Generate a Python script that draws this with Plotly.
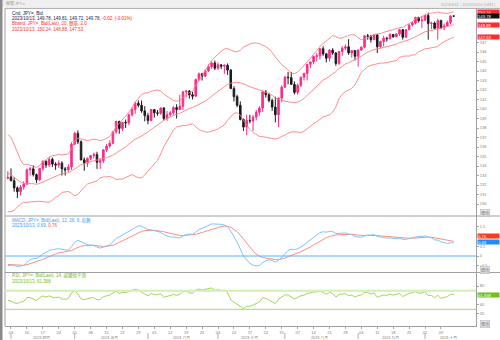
import pandas as pd
import plotly.graph_objects as go

# ---- daily USD/JPY candles, 2023-03-31 .. 2023-10-13 ----
opens = [132.70, 132.85, 132.45, 131.70, 131.30, 131.80, 132.10, 133.60, 133.70, 133.10,
         132.55, 133.75, 134.50, 134.10, 134.70, 134.20, 134.10, 134.30, 133.70, 133.60,
         133.90, 136.30, 137.45, 136.55, 134.65, 134.30, 134.80, 135.10, 135.20, 134.40,
         134.55, 135.70, 136.10, 136.40, 137.60, 138.70, 137.95, 138.60, 138.55, 139.40,
         139.95, 140.60, 140.40, 139.80, 139.30, 138.80, 139.95, 139.60, 139.55, 140.10,
         139.00, 139.40, 139.60, 140.15, 139.95, 140.30, 141.80, 141.90, 141.50, 141.35,
         143.10, 143.70, 143.45, 144.00, 144.45, 144.85, 144.30, 144.65, 144.50, 144.60,
         144.10, 142.15, 141.30, 140.40, 138.90, 138.10, 138.80, 138.75, 139.15, 139.65,
         140.10, 141.80, 141.50, 140.90, 140.20, 139.40, 141.15, 142.30, 143.35, 143.30,
         142.60, 141.75, 142.50, 143.35, 143.75, 144.70, 144.95, 145.55, 145.60, 146.35,
         145.80, 145.35, 146.20, 145.90, 144.80, 146.05, 146.40, 146.55, 145.90, 146.15,
         145.55, 146.20, 146.50, 147.70, 147.65, 147.30, 147.80, 146.55, 147.10, 147.45,
         147.40, 147.85, 147.60, 147.90, 148.35, 147.55, 148.35, 148.85, 149.05, 149.65,
         149.30, 149.35, 149.85, 149.00, 149.05, 148.50, 149.30, 148.55, 148.75, 149.10,
         149.78]
highs = [133.45, 133.75, 132.80, 131.85, 132.00, 132.40, 133.75, 133.90, 134.05, 133.20,
         133.80, 134.60, 134.60, 134.95, 134.90, 134.40, 134.60, 134.50, 133.90, 134.20,
         136.50, 137.60, 137.75, 136.70, 134.90, 134.90, 135.10, 135.40, 135.50, 134.80,
         135.75, 136.30, 136.70, 137.60, 138.75, 138.75, 138.60, 138.90, 139.50, 140.20,
         140.75, 140.90, 140.90, 140.30, 139.60, 140.00, 140.00, 139.90, 140.20, 140.20,
         139.80, 139.80, 140.30, 140.50, 141.50, 141.90, 141.95, 142.00, 141.80, 143.20,
         143.85, 143.80, 144.20, 144.70, 145.00, 145.10, 144.90, 144.70, 144.70, 144.80,
         144.20, 142.40, 141.50, 140.80, 139.00, 139.40, 139.40, 139.40, 139.90, 140.30,
         141.95, 142.00, 141.70, 141.10, 141.30, 141.20, 142.50, 143.50, 143.90, 143.90,
         142.90, 142.70, 143.40, 143.80, 144.70, 145.00, 145.60, 145.90, 146.40, 146.60,
         145.90, 146.30, 146.40, 146.00, 146.10, 146.60, 146.80, 147.35, 146.20, 146.20,
         146.30, 146.60, 147.80, 147.90, 147.80, 147.90, 147.90, 147.20, 147.70, 147.60,
         147.95, 147.90, 148.00, 148.45, 148.40, 148.40, 148.90, 149.20, 149.70, 149.70,
         149.80, 149.90, 150.15, 149.20, 149.20, 149.50, 149.40, 149.00, 149.30, 149.85,
         149.81]
lows = [132.60, 132.40, 131.30, 130.63, 130.90, 131.50, 132.00, 133.00, 132.90, 132.20,
        132.40, 133.50, 133.80, 133.90, 133.90, 133.60, 133.80, 133.00, 133.00, 133.40,
        133.60, 136.20, 136.30, 134.60, 133.50, 133.90, 134.60, 134.80, 133.70, 133.70,
        134.30, 135.50, 135.90, 136.30, 137.40, 137.40, 137.70, 138.00, 138.30, 139.20,
        139.50, 140.20, 139.60, 138.70, 138.40, 138.70, 139.10, 139.30, 139.40, 138.80,
        138.75, 139.20, 139.40, 139.00, 139.90, 139.90, 141.20, 141.10, 141.00, 141.30,
        142.90, 143.00, 143.40, 143.90, 144.20, 144.10, 144.10, 144.20, 143.70, 143.60,
        142.10, 140.80, 140.20, 138.80, 137.70, 137.25, 138.50, 137.70, 138.80, 139.30,
        139.70, 141.20, 140.70, 139.80, 138.60, 138.10, 140.70, 142.20, 142.60, 142.55,
        141.55, 141.50, 142.30, 143.00, 143.00, 144.30, 144.70, 145.00, 145.20, 145.60,
        144.90, 145.00, 145.70, 144.55, 144.60, 145.60, 146.20, 145.70, 145.40, 145.10,
        144.45, 146.10, 146.40, 147.30, 147.00, 147.25, 145.90, 146.40, 146.60, 147.10,
        147.30, 147.50, 147.55, 147.70, 147.30, 147.50, 148.30, 148.70, 148.90, 149.10,
        148.50, 149.30, 147.30, 148.40, 148.40, 147.30, 148.40, 148.30, 148.75, 148.90,
        149.72]
closes = [132.80, 132.45, 131.70, 131.30, 131.80, 132.10, 133.60, 133.70, 133.10, 132.55,
          133.75, 134.50, 134.10, 134.70, 134.20, 134.10, 134.30, 133.70, 133.60, 133.90,
          136.30, 137.45, 136.55, 134.65, 134.30, 134.80, 135.10, 135.20, 134.40, 134.55,
          135.70, 136.10, 136.40, 137.60, 138.70, 137.95, 138.60, 138.55, 139.40, 139.95,
          140.60, 140.40, 139.80, 139.30, 138.80, 139.95, 139.60, 139.55, 140.10, 139.00,
          139.40, 139.60, 140.15, 139.95, 140.30, 141.80, 141.90, 141.50, 141.35, 143.10,
          143.70, 143.45, 144.00, 144.45, 144.85, 144.30, 144.65, 144.50, 144.60, 144.10,
          142.15, 141.30, 140.40, 138.90, 138.10, 138.80, 138.75, 139.15, 139.65, 140.10,
          141.80, 141.50, 140.90, 140.20, 139.40, 141.15, 142.30, 143.35, 143.30, 142.60,
          141.75, 142.50, 143.35, 143.75, 144.70, 144.95, 145.55, 145.60, 146.35, 145.80,
          145.35, 146.20, 145.90, 144.80, 146.05, 146.40, 146.55, 145.90, 146.15, 145.55,
          146.20, 146.50, 147.70, 147.65, 147.30, 147.80, 146.55, 147.10, 147.45, 147.40,
          147.85, 147.60, 147.90, 148.35, 147.55, 148.35, 148.85, 149.05, 149.65, 149.30,
          149.35, 149.85, 149.00, 149.05, 148.50, 149.30, 148.55, 148.75, 149.10, 149.80,
          149.78]

# earlier closes (Jan-Mar 2023) so the indicators are already running on the first bar
history_closes = [130.9, 131.0, 132.3, 133.4, 132.1, 131.9, 132.2, 132.4, 129.2, 127.9,
                  128.5, 128.1, 128.9, 128.4, 129.6, 130.7, 130.2, 129.2, 130.2, 129.9,
                  130.4, 130.1, 128.9, 128.7, 131.2, 132.6, 131.1, 131.4, 131.4, 131.4,
                  132.4, 133.1, 134.1, 133.9, 134.2, 134.3, 134.9, 134.9, 134.7, 136.4,
                  136.2, 136.2, 136.2, 136.8, 135.9, 135.9, 137.2, 137.3, 136.1, 135.0,
                  133.2, 134.2, 133.4, 133.8, 131.8, 131.3, 132.5, 131.4, 130.8, 130.7,
                  131.5, 130.9, 132.8, 132.7]

# values printed in the legend lines / axis flags for the last bar
last_bar = "2023/10/13"
bb_last = [150.24, 148.88, 147.53]
macd_last = [0.69, 0.76]
rsi_last = 61.368
price_ticks = list(range(130, 148))
macd_ticks = [-0.5, 0, 0.5, 1.5]
rsi_ticks = [20, 40, 80]
month_names = {4: "四月", 5: "五月", 6: "六月", 7: "七月", 8: "八月", 9: "九月", 10: "十月"}

# ---- indicators ----
dates = pd.bdate_range("2023-03-31", "2023-10-13")
n = len(closes)
s = pd.Series(history_closes + closes)
mid = s.rolling(20).mean()
sd = s.rolling(20).std(ddof=0)
upper, lower = mid + 2 * sd, mid - 2 * sd
macd = s.ewm(span=12, adjust=False).mean() - s.ewm(span=26, adjust=False).mean()
signal = macd.ewm(span=9, adjust=False).mean()
d = s.diff()
gain = d.clip(lower=0).ewm(alpha=1 / 14, adjust=False).mean()
loss = (-d.clip(upper=0)).ewm(alpha=1 / 14, adjust=False).mean()
rsi = 100 - 100 / (1 + gain / loss)
tail = lambda v: v.iloc[-n:].to_list()

idx = list(range(n))
W, H = 500, 340
FONT = "Liberation Sans, Noto Sans CJK TC, sans-serif"
UP, DOWN = "#ff2a86", "#1c1c1c"
BBC = "#ff8080"
BLUE, SALMON, GREEN = "#7cc4ff", "#ff8e7c", "#9ed85b"

px = lambda x: x / W
py = lambda y: 1 - y / H

fig = go.Figure()
fig.add_trace(go.Candlestick(
    x=idx, open=opens, high=highs, low=lows, close=closes,
    increasing=dict(line=dict(color=UP, width=1), fillcolor=UP),
    decreasing=dict(line=dict(color=DOWN, width=1), fillcolor=DOWN),
    whiskerwidth=0, xaxis="x", yaxis="y", showlegend=False))
for band in (upper, mid, lower):
    fig.add_trace(go.Scatter(x=idx, y=tail(band), mode="lines",
                             line=dict(color=BBC, width=0.9), xaxis="x", yaxis="y"))

fig.add_trace(go.Scatter(x=idx, y=tail(signal), mode="lines",
                         line=dict(color=SALMON, width=1), xaxis="x2", yaxis="y2"))
fig.add_trace(go.Scatter(x=idx, y=tail(macd), mode="lines",
                         line=dict(color=BLUE, width=1), xaxis="x2", yaxis="y2"))
fig.add_trace(go.Scatter(x=idx, y=tail(rsi), mode="lines",
                         line=dict(color=GREEN, width=1), xaxis="x3", yaxis="y3"))

XR = [-0.88, 147.0]
XD = [px(5), px(476)]
axis_common = dict(showgrid=False, zeroline=False, automargin=False)
mondays = [i for i, dt in enumerate(dates) if dt.weekday() == 0]

fig.update_layout(
    width=W, height=H, margin=dict(l=0, r=0, t=0, b=0),
    paper_bgcolor="white", plot_bgcolor="white", showlegend=False,
    font=dict(family=FONT, size=4, color="#808080"),
    xaxis=dict(domain=XD, range=XR, anchor="y", showticklabels=False,
               rangeslider=dict(visible=False), **axis_common),
    xaxis2=dict(domain=XD, range=XR, anchor="y2", matches="x", showticklabels=False, **axis_common),
    xaxis3=dict(domain=XD, range=XR, anchor="y3", matches="x",
                tickvals=mondays, ticktext=[dates[i].strftime("%d") for i in mondays],
                ticks="outside", ticklen=2, tickcolor="#aaaaaa", tickfont=dict(size=4, color="#808080"),
                showline=True, linecolor="#a0a0a0", linewidth=1, **axis_common),
    yaxis=dict(domain=[py(216), py(8.3)], range=[128.74, 150.6], side="right",
               tickvals=price_ticks, ticks="outside", ticklen=2, tickcolor="#aaaaaa",
               showline=True, linecolor="#a0a0a0", linewidth=1, **axis_common),
    yaxis2=dict(domain=[py(272.5), py(216)], range=[-0.85, 2.06], side="right",
                tickvals=macd_ticks, ticks="outside", ticklen=2, tickcolor="#aaaaaa",
                tickfont=dict(size=3.8), showline=True, linecolor="#a0a0a0", linewidth=1,
                **axis_common),
    yaxis3=dict(domain=[py(326), py(272.5)], range=[-5.9, 109.1], side="right",
                tickvals=rsi_ticks, ticks="outside", ticklen=2, tickcolor="#aaaaaa",
                showline=True, linecolor="#a0a0a0", linewidth=1, **axis_common),
)

shapes = [
    dict(type="rect", xref="paper", yref="paper", x0=0, x1=1, y0=py(7), y1=1,
         fillcolor="#efefef", line=dict(width=0), layer="below"),
    dict(type="rect", xref="paper", yref="paper", x0=0, x1=px(2.5), y0=0, y1=1,
         fillcolor="#8a8a8a", line=dict(width=0)),
    dict(type="line", xref="paper", yref="paper", x0=px(5), x1=px(5), y0=py(326), y1=py(8.3),
         line=dict(color="#a0a0a0", width=1)),
]
for yy in (8.3, 216, 272.5):
    shapes.append(dict(type="line", xref="paper", yref="paper", x0=px(5), x1=1,
                       y0=py(yy), y1=py(yy), line=dict(color="#a0a0a0", width=1)))
# reference lines
shapes.append(dict(type="line", xref="x2", yref="y2", x0=XR[0], x1=XR[1], y0=0, y1=0,
                   line=dict(color="#5aaefc", width=1)))
shapes.append(dict(type="line", xref="x3", yref="y3", x0=XR[0], x1=XR[1], y0=70, y1=70,
                   line=dict(color="#d2efb4", width=2)))
shapes.append(dict(type="line", xref="x3", yref="y3", x0=XR[0], x1=XR[1], y0=30, y1=30,
                   line=dict(color="#9fdc68", width=1)))

# month bands on the time axis
month_starts = [i for i in range(1, n) if dates[i].month != dates[i - 1].month]
edges = month_starts + [XR[1]]
annotations = []
for k, st in enumerate(month_starts):
    shapes.append(dict(type="line", xref="x3", yref="paper", x0=st, x1=st,
                       y0=py(339), y1=py(333), line=dict(color="#b0b0b0", width=1)))
    cx = (st + edges[k + 1] - 1) / 2
    annotations.append(dict(xref="x3", yref="paper", x=cx, y=py(337), showarrow=False,
                            text=f"2023 {month_names[dates[st].month]}",
                            font=dict(size=3.8, color="#808080"), xanchor="center", yanchor="middle"))


def label(x, y, text, color, size=4.5, anchor="left"):
    annotations.append(dict(xref="paper", yref="paper", x=px(x), y=py(y), text=text,
                            showarrow=False, xanchor=anchor, yanchor="middle",
                            font=dict(size=size, color=color, family=FONT)))


def flag(value, yref, text, bg, yshift=0):
    annotations.append(dict(xref="paper", yref=yref, x=px(477), y=value, text=text,
                            showarrow=False, xanchor="left", yanchor="middle", align="left",
                            width=21, height=4.3, bgcolor=bg, borderpad=0, yshift=yshift,
                            font=dict(size=4.2, color="white", family=FONT)))


def unit_box(y):
    annotations.append(dict(xref="paper", yref="paper", x=px(480), y=py(y), text="價值",
                            showarrow=False, xanchor="left", yanchor="middle",
                            bgcolor="#e6e6e6", bordercolor="#b0b0b0", borderwidth=0.5, borderpad=0.5,
                            font=dict(size=4, color="#808080", family=FONT)))


label(4, 3.2, "報價 JPY=", "#a0a0a0", size=4)
label(498, 4.5, "2023/3/31 - 2023/10/24 (GMT)", "#b0b0b0", size=4, anchor="right")

label(10, 13.3, "Cnd, JPY=, Bid", "#20204a")
label(10, 18.5, f"{last_bar}, {opens[-1]:.2f}, {highs[-1]:.2f}, {lows[-1]:.2f}, {closes[-1]:.2f}, "
      f"<span style='color:#ff2020'>{closes[-1] - closes[-2]:.2f}, "
      f"({(closes[-1] - closes[-2]) / closes[-2] * 100:.2f}%)</span>", "#20204a")
label(10, 24, "Bband, JPY=, Bid(Last), 20, 簡單, 2.0", "#ff3030")
label(10, 29.3, f"{last_bar}, {bb_last[0]:.2f}, {bb_last[1]:.2f}, {bb_last[2]:.2f}", "#ff3030")

label(10, 220, "MACD, JPY=, Bid(Last), 12, 26, 9, 指數", "#3a9cf5")
label(10, 225.2, f"{last_bar}, {macd_last[0]:.2f}, <span style='color:#ff4a3a'>{macd_last[1]:.2f}</span>",
      "#3a9cf5")

label(10, 275.8, "RSI, JPY=, Bid(Last), 14, 威爾德平滑", "#6cc22a")
label(10, 281, f"{last_bar}, {rsi_last:.3f}", "#6cc22a")

flag(bb_last[0], "y", f"{bb_last[0]:.2f}", "#ff2a2a")
flag(closes[-1], "y", f"{closes[-1]:.2f}", "#111111")
flag(bb_last[1], "y", f"{bb_last[1]:.2f}", "#ff2a2a")
flag(bb_last[2], "y", f"{bb_last[2]:.2f}", "#ff2a2a")
flag(macd_last[1], "y2", f"{macd_last[1]:.2f}", "#ff3a1a", yshift=5.5)
flag(macd_last[0], "y2", f"{macd_last[0]:.2f}", "#1a8cff", yshift=1)
flag(rsi_last, "y3", f"{rsi_last:.3f}", "#6cc21a")

unit_box(213)
unit_box(270)
unit_box(323.5)

fig.update_layout(shapes=shapes, annotations=annotations)
fig.write_html("out.html")
